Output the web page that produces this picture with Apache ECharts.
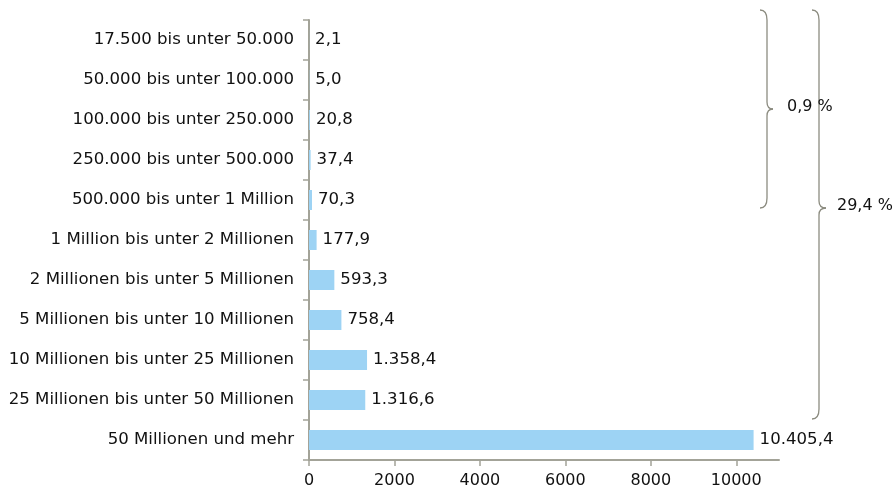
<!DOCTYPE html>
<html>
<head>
<meta charset="utf-8">
<script src="https://cdn.jsdelivr.net/npm/echarts@6/dist/echarts.min.js"></script>
<style>
  html, body { margin: 0; padding: 0; background: #fff; }
  #chart { width: 896px; height: 494px; }
</style>
</head>
<body>
<div id="chart"></div>
<script>
// Kategorien (von oben nach unten)
var categories = [
  '17.500 bis unter 50.000',
  '50.000 bis unter 100.000',
  '100.000 bis unter 250.000',
  '250.000 bis unter 500.000',
  '500.000 bis unter 1 Million',
  '1 Million bis unter 2 Millionen',
  '2 Millionen bis unter 5 Millionen',
  '5 Millionen bis unter 10 Millionen',
  '10 Millionen bis unter 25 Millionen',
  '25 Millionen bis unter 50 Millionen',
  '50 Millionen und mehr'
];
var values = [2.1, 5.0, 20.8, 37.4, 70.3, 177.9, 593.3, 758.4, 1358.4, 1316.6, 10405.4];
var xTicks = [0, 2000, 4000, 6000, 8000, 10000];
var braceLabels = ['0,9 %', '29,4 %'];

var axisColor = '#a3a398';
var braceColor = '#8c8c80';
var font = '"DejaVu Sans", Verdana, sans-serif';
var fs = 16;

// deutsches Zahlenformat: 10.405,4
function fmtDe(v) {
  var parts = v.toFixed(1).split('.');
  var intPart = parts[0].replace(/\B(?=(\d{3})+(?!\d))/g, '.');
  return intPart + ',' + parts[1];
}

// geschweifte Klammer aus Linien und Kurven
function brace(x, top, bottom, tipY, w, depth) {
  var v = x + w;
  var st = { stroke: braceColor, lineWidth: 1.3, fill: null };
  function curve(x1, y1, cx, cy, x2, y2) {
    return { type: 'bezierCurve', silent: true, shape: { x1: x1, y1: y1, cpx1: cx, cpy1: cy, x2: x2, y2: y2 }, style: st };
  }
  function line(x1, y1, x2, y2) {
    return { type: 'line', silent: true, shape: { x1: x1, y1: y1, x2: x2, y2: y2 }, style: st };
  }
  return [
    curve(x, top, v, top, v, top + 10),
    line(v, top + 10, v, tipY - 7),
    curve(v, tipY - 7, v, tipY, v + depth, tipY),
    curve(v + depth, tipY, v, tipY, v, tipY + 7),
    line(v, tipY + 7, v, bottom - 10),
    curve(v, bottom - 10, v, bottom, x, bottom)
  ];
}

var chart = echarts.init(document.getElementById('chart'), null, { renderer: 'canvas' });

var graphics = []
  .concat(brace(760, 10, 208, 109, 7, 6))
  .concat(brace(812, 10, 419, 208, 7, 7));
graphics.push({
  type: 'text', left: 787, top: 99,
  style: { text: braceLabels[0], fill: '#111', font: fs + 'px ' + font }
});
graphics.push({
  type: 'text', left: 837, top: 198,
  style: { text: braceLabels[1], fill: '#111', font: fs + 'px ' + font }
});

chart.setOption({
  animation: false,
  grid: { left: 309, right: 117, top: 20, bottom: 34, containLabel: false },
  xAxis: {
    type: 'value',
    min: 0,
    max: 11000,
    interval: 2000,
    splitLine: { show: false },
    axisLine: { show: true, lineStyle: { color: axisColor, width: 2 } },
    axisTick: { show: true, length: 6, lineStyle: { color: axisColor, width: 1.5 } },
    axisLabel: {
      color: '#111', fontFamily: font, fontSize: fs, margin: 13, showMaxLabel: false,
      formatter: function (v) { return xTicks.indexOf(v) >= 0 ? String(v) : ''; }
    }
  },
  yAxis: {
    type: 'category',
    data: categories,
    inverse: true,
    axisLine: { show: true, lineStyle: { color: axisColor, width: 2 } },
    axisTick: { show: true, length: 6, lineStyle: { color: axisColor, width: 1.5 } },
    axisLabel: { color: '#111', fontFamily: font, fontSize: 16.6, margin: 15 }
  },
  series: [{
    type: 'bar',
    data: values,
    barWidth: 20,
    itemStyle: { color: '#9dd3f4' },
    label: {
      show: true,
      position: 'right',
      distance: 6,
      color: '#111',
      fontFamily: font,
      fontSize: 16.6,
      formatter: function (p) { return fmtDe(p.value); }
    }
  }],
  graphic: graphics
});
</script>
</body>
</html>
